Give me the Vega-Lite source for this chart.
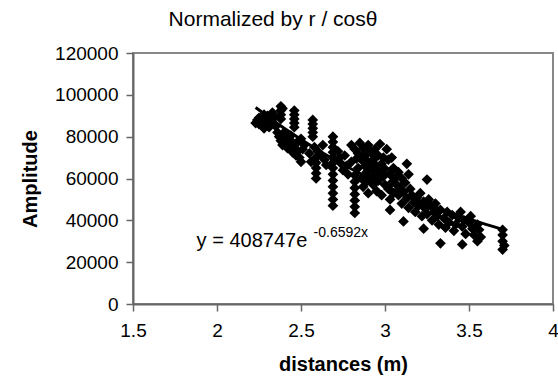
{
  "$schema": "https://vega.github.io/schema/vega-lite/v6.json",
  "width": 420,
  "height": 251,
  "autosize": {"type": "none"},
  "padding": {"left": 133, "top": 53, "right": 5, "bottom": 84},
  "background": "white",
  "config": {
    "view": {"stroke": "#888888", "strokeWidth": 2},
    "font": "Liberation Sans",
    "axis": {"grid": false, "labelFlush": false, "labelOverlap": false, "domainColor": "#666666", "domainWidth": 2, "tickColor": "#666666", "tickWidth": 1.5, "labelColor": "#000000", "titleColor": "#000000", "labelFont": "Liberation Sans", "titleFont": "Liberation Sans", "labelFontSize": 19, "titleFontSize": 20, "titleFontWeight": "bold"}
  },
  "title": {"text": "Normalized by r / cosθ", "font": "Liberation Sans", "fontSize": 21, "fontWeight": "normal", "color": "#000000", "anchor": "middle", "dx": -70, "offset": 14},
  "datasets": {
    "points": [
      {"d": 2.24, "a": 88000}, {"d": 2.25, "a": 86000}, {"d": 2.26, "a": 87000}, {"d": 2.27, "a": 85000}, {"d": 2.27, "a": 89500}, {"d": 2.28, "a": 90500}, {"d": 2.29, "a": 88000}, {"d": 2.30, "a": 86500}, {"d": 2.31, "a": 84500}, {"d": 2.25, "a": 89000}, {"d": 2.23, "a": 86500}, {"d": 2.28, "a": 84000}, {"d": 2.32, "a": 87000}, {"d": 2.33, "a": 91500}, {"d": 2.34, "a": 89000}, {"d": 2.35, "a": 85000}, {"d": 2.36, "a": 82000}, {"d": 2.30, "a": 90000},
      {"d": 2.38, "a": 94500}, {"d": 2.38, "a": 92500}, {"d": 2.38, "a": 90500}, {"d": 2.38, "a": 88500}, {"d": 2.39, "a": 93500},
      {"d": 2.46, "a": 92500}, {"d": 2.46, "a": 90500}, {"d": 2.46, "a": 88500}, {"d": 2.46, "a": 86500}, {"d": 2.46, "a": 84500},
      {"d": 2.57, "a": 88000}, {"d": 2.57, "a": 86000}, {"d": 2.57, "a": 84000}, {"d": 2.57, "a": 82000}, {"d": 2.57, "a": 80000},
      {"d": 2.37, "a": 80000}, {"d": 2.38, "a": 78000}, {"d": 2.39, "a": 76000}, {"d": 2.40, "a": 79000}, {"d": 2.41, "a": 77000}, {"d": 2.42, "a": 74500}, {"d": 2.43, "a": 76000}, {"d": 2.44, "a": 78000}, {"d": 2.45, "a": 72500}, {"d": 2.46, "a": 75000}, {"d": 2.47, "a": 71000}, {"d": 2.48, "a": 73000}, {"d": 2.49, "a": 70000}, {"d": 2.50, "a": 68000}, {"d": 2.51, "a": 74000}, {"d": 2.52, "a": 76000}, {"d": 2.40, "a": 82000}, {"d": 2.44, "a": 80500}, {"d": 2.48, "a": 77500}, {"d": 2.50, "a": 79000},
      {"d": 2.55, "a": 72000}, {"d": 2.56, "a": 68000}, {"d": 2.58, "a": 75000}, {"d": 2.59, "a": 70000}, {"d": 2.59, "a": 67500}, {"d": 2.59, "a": 65000}, {"d": 2.59, "a": 62500}, {"d": 2.59, "a": 60000}, {"d": 2.60, "a": 73000}, {"d": 2.62, "a": 71000}, {"d": 2.63, "a": 76000}, {"d": 2.64, "a": 69000}, {"d": 2.65, "a": 66500},
      {"d": 2.69, "a": 80000}, {"d": 2.69, "a": 77500}, {"d": 2.69, "a": 75000}, {"d": 2.69, "a": 72500}, {"d": 2.69, "a": 70000}, {"d": 2.69, "a": 67500}, {"d": 2.69, "a": 65000}, {"d": 2.69, "a": 62000}, {"d": 2.69, "a": 59000}, {"d": 2.69, "a": 56000}, {"d": 2.69, "a": 53000}, {"d": 2.69, "a": 50000}, {"d": 2.69, "a": 47000},
      {"d": 2.72, "a": 73000}, {"d": 2.73, "a": 70000}, {"d": 2.74, "a": 67000}, {"d": 2.75, "a": 64000}, {"d": 2.76, "a": 71000}, {"d": 2.77, "a": 66000}, {"d": 2.78, "a": 62000},
      {"d": 2.82, "a": 61500}, {"d": 2.82, "a": 58500}, {"d": 2.82, "a": 55500}, {"d": 2.82, "a": 52500}, {"d": 2.82, "a": 49500}, {"d": 2.82, "a": 46500}, {"d": 2.82, "a": 43500},
      {"d": 2.80, "a": 76000}, {"d": 2.82, "a": 74000}, {"d": 2.84, "a": 72000}, {"d": 2.85, "a": 77000}, {"d": 2.86, "a": 69000}, {"d": 2.87, "a": 74500}, {"d": 2.88, "a": 66000}, {"d": 2.88, "a": 71000}, {"d": 2.89, "a": 63000}, {"d": 2.90, "a": 68000}, {"d": 2.90, "a": 76000}, {"d": 2.91, "a": 60000}, {"d": 2.92, "a": 65000}, {"d": 2.92, "a": 72000}, {"d": 2.93, "a": 57000}, {"d": 2.93, "a": 69000}, {"d": 2.94, "a": 62000}, {"d": 2.95, "a": 66000}, {"d": 2.95, "a": 54000}, {"d": 2.96, "a": 71000}, {"d": 2.96, "a": 59000}, {"d": 2.97, "a": 63000}, {"d": 2.97, "a": 76500}, {"d": 2.98, "a": 67000}, {"d": 2.98, "a": 52000}, {"d": 2.99, "a": 61000}, {"d": 3.00, "a": 64500}, {"d": 3.00, "a": 57000}, {"d": 2.86, "a": 60000}, {"d": 2.84, "a": 65000}, {"d": 2.80, "a": 68000},
      {"d": 2.87, "a": 56000}, {"d": 2.90, "a": 53000}, {"d": 2.83, "a": 69500}, {"d": 2.91, "a": 73500}, {"d": 2.94, "a": 74000}, {"d": 2.99, "a": 70000}, {"d": 2.89, "a": 58500},
      {"d": 3.01, "a": 74000}, {"d": 3.02, "a": 69000}, {"d": 3.02, "a": 55000}, {"d": 3.03, "a": 62000}, {"d": 3.03, "a": 50000}, {"d": 3.03, "a": 45000}, {"d": 3.04, "a": 70000}, {"d": 3.04, "a": 58000}, {"d": 3.05, "a": 65000}, {"d": 3.05, "a": 53000},
      {"d": 3.06, "a": 60000}, {"d": 3.07, "a": 57000}, {"d": 3.08, "a": 63000}, {"d": 3.08, "a": 52000}, {"d": 3.09, "a": 55500}, {"d": 3.10, "a": 60000}, {"d": 3.10, "a": 48000}, {"d": 3.11, "a": 39500}, {"d": 3.11, "a": 53500}, {"d": 3.12, "a": 58000}, {"d": 3.13, "a": 67000}, {"d": 3.13, "a": 50500}, {"d": 3.14, "a": 62000}, {"d": 3.14, "a": 46000}, {"d": 3.15, "a": 55000},
      {"d": 3.16, "a": 52000}, {"d": 3.17, "a": 48500}, {"d": 3.18, "a": 44000}, {"d": 3.19, "a": 51000}, {"d": 3.20, "a": 47000}, {"d": 3.21, "a": 53000}, {"d": 3.22, "a": 42000}, {"d": 3.23, "a": 36000}, {"d": 3.23, "a": 49000}, {"d": 3.24, "a": 45500}, {"d": 3.25, "a": 59500}, {"d": 3.25, "a": 43000}, {"d": 3.26, "a": 50000}, {"d": 3.27, "a": 47000}, {"d": 3.28, "a": 40000}, {"d": 3.29, "a": 44000}, {"d": 3.30, "a": 48000},
      {"d": 3.31, "a": 42000}, {"d": 3.32, "a": 38000}, {"d": 3.33, "a": 29000}, {"d": 3.33, "a": 45000}, {"d": 3.35, "a": 41000}, {"d": 3.36, "a": 36500}, {"d": 3.37, "a": 44000}, {"d": 3.38, "a": 39000}, {"d": 3.40, "a": 42500}, {"d": 3.41, "a": 35000}, {"d": 3.42, "a": 38000}, {"d": 3.44, "a": 41000}, {"d": 3.45, "a": 44000}, {"d": 3.46, "a": 28500}, {"d": 3.46, "a": 37000}, {"d": 3.47, "a": 40000}, {"d": 3.48, "a": 33500}, {"d": 3.50, "a": 39000}, {"d": 3.51, "a": 42000}, {"d": 3.52, "a": 36000}, {"d": 3.53, "a": 33000}, {"d": 3.55, "a": 30000}, {"d": 3.55, "a": 38000}, {"d": 3.56, "a": 35500}, {"d": 3.57, "a": 32000},
      {"d": 3.70, "a": 35500}, {"d": 3.70, "a": 33000}, {"d": 3.70, "a": 30000}, {"d": 3.70, "a": 26000}, {"d": 3.71, "a": 28000}
    ],
    "trend": [
      {"d": 2.23, "a": 93970}, {"d": 2.4, "a": 84000}, {"d": 2.6, "a": 73650}, {"d": 2.8, "a": 64540}, {"d": 3.0, "a": 56570}, {"d": 3.2, "a": 49580}, {"d": 3.4, "a": 43450}, {"d": 3.6, "a": 38080}, {"d": 3.71, "a": 35430}
    ],
    "labels": [
      {"d": 2.208, "a": 27250, "t": "y = 408747e"}
    ],
    "sup": [
      {"d": 2.575, "a": 32000, "t": "-0.6592x"}
    ]
  },
  "layer": [
    {
      "data": {"name": "points"},
      "mark": {"type": "point", "shape": "diamond", "filled": true, "color": "#000000", "size": 115, "opacity": 1},
      "encoding": {
        "x": {"field": "d", "type": "quantitative", "scale": {"domain": [1.5, 4], "nice": false, "zero": false},
          "axis": {"title": "distances (m)", "values": [1.5, 2, 2.5, 3, 3.5, 4], "format": "~g", "tickSize": 7, "labelPadding": 10, "titlePadding": 14}},
        "y": {"field": "a", "type": "quantitative", "scale": {"domain": [0, 120000], "nice": false},
          "axis": {"title": "Amplitude", "values": [0, 20000, 40000, 60000, 80000, 100000, 120000], "format": "d", "tickSize": 7, "labelPadding": 8, "titlePadding": 14}}
      }
    },
    {
      "data": {"name": "trend"},
      "mark": {"type": "line", "color": "#000000", "strokeWidth": 3, "interpolate": "monotone"},
      "encoding": {
        "x": {"field": "d", "type": "quantitative"},
        "y": {"field": "a", "type": "quantitative"}
      }
    },
    {
      "data": {"name": "labels"},
      "mark": {"type": "text", "font": "Liberation Sans", "fontSize": 20, "align": "center", "baseline": "alphabetic", "color": "#000000"},
      "encoding": {"x": {"field": "d", "type": "quantitative"}, "y": {"field": "a", "type": "quantitative"}, "text": {"field": "t"}}
    },
    {
      "data": {"name": "sup"},
      "mark": {"type": "text", "font": "Liberation Sans", "fontSize": 14, "align": "left", "baseline": "alphabetic", "color": "#000000"},
      "encoding": {"x": {"field": "d", "type": "quantitative"}, "y": {"field": "a", "type": "quantitative"}, "text": {"field": "t"}}
    }
  ]
}
